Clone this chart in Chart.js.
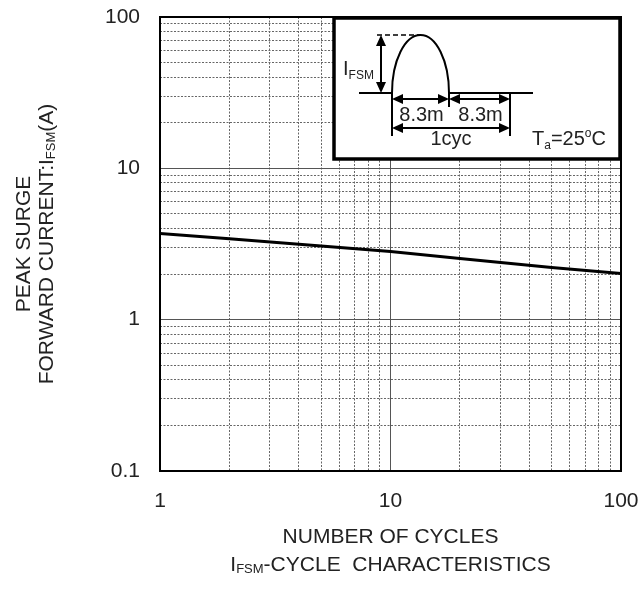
<!DOCTYPE html>
<html><head><meta charset="utf-8">
<script src="https://cdn.jsdelivr.net/npm/chart.js@4/dist/chart.umd.min.js"></script>
<style>html,body{margin:0;padding:0;background:#fff}#wrap{width:643px;height:590px}</style>
</head><body><div id="wrap"><canvas id="c" width="643" height="590"></canvas></div>
<script>
// ---- data ----
const cycles = [1, 2, 5, 10, 20, 50, 100];
const surgeCurrent = [3.71, 3.42, 3.07, 2.82, 2.54, 2.21, 2.02];
const xTickValues = [1,2,3,4,5,6,7,8,9,10,20,30,40,50,60,70,80,90,100];
const yTickValues = [0.1,0.2,0.3,0.4,0.5,0.6,0.7,0.8,0.9,1,2,3,4,5,6,7,8,9,10,20,30,40,50,60,70,80,90,100];
const xTickLabels = ['1', '10', '100'];
const yTickLabels = ['0.1', '1', '10', '100'];

const FONT = "'Liberation Sans', Arial, sans-serif";

function isMajor(v) {
  const l = Math.log10(v);
  return Math.abs(l - Math.round(l)) < 1e-6;
}
function labelFor(v, labels) {
  if (!isMajor(v)) return '';
  const s = labels.find(t => Math.abs(parseFloat(t) - v) < 1e-9);
  return s || '';
}

// rich text: parts = [[text, mode]] mode 0 normal, 1 subscript, 2 superscript
function rich(ctx, parts, x, y, align, size) {
  const small = Math.round(size * 0.62);
  let total = 0;
  const widths = parts.map(([t, m]) => {
    ctx.font = (m ? small : size) + 'px ' + FONT;
    const w = ctx.measureText(t).width; total += w; return w;
  });
  let cx = align === 'center' ? x - total / 2 : (align === 'right' ? x - total : x);
  ctx.textAlign = 'left';
  parts.forEach(([t, m], i) => {
    ctx.font = (m ? small : size) + 'px ' + FONT;
    const dy = m === 1 ? size * 0.22 : (m === 2 ? -size * 0.42 : 0);
    ctx.fillText(t, cx, y + dy);
    cx += widths[i];
  });
}

function arrowHead(ctx, x, y, dir) {
  const L = 11, W = 5;
  ctx.beginPath();
  if (dir === 'l') { ctx.moveTo(x, y); ctx.lineTo(x + L, y - W); ctx.lineTo(x + L, y + W); }
  if (dir === 'r') { ctx.moveTo(x, y); ctx.lineTo(x - L, y - W); ctx.lineTo(x - L, y + W); }
  if (dir === 'u') { ctx.moveTo(x, y); ctx.lineTo(x - W, y + L); ctx.lineTo(x + W, y + L); }
  if (dir === 'd') { ctx.moveTo(x, y); ctx.lineTo(x - W, y - L); ctx.lineTo(x + W, y - L); }
  ctx.closePath(); ctx.fill();
}
function line(ctx, x1, y1, x2, y2) { ctx.beginPath(); ctx.moveTo(x1, y1); ctx.lineTo(x2, y2); ctx.stroke(); }
function dblArrowH(ctx, x1, x2, y) { line(ctx, x1 + 4, y, x2 - 4, y); arrowHead(ctx, x1, y, 'l'); arrowHead(ctx, x2, y, 'r'); }

const decor = {
  id: 'decor',
  afterDraw(chart) {
    const ctx = chart.ctx, a = chart.chartArea;
    ctx.save();
    // frame
    ctx.strokeStyle = '#000'; ctx.lineWidth = 2;
    ctx.strokeRect(a.left, a.top, a.right - a.left, a.bottom - a.top);

    ctx.fillStyle = '#222';
    ctx.textBaseline = 'middle';
    // x titles
    const cx = (a.left + a.right) / 2;
    rich(ctx, [['NUMBER OF CYCLES', 0]], cx, a.bottom + 66, 'center', 21);
    rich(ctx, [['I', 0], ['FSM', 1], ['-CYCLE  CHARACTERISTICS', 0]], cx, a.bottom + 94, 'center', 21);
    // y titles
    const cy = (a.top + a.bottom) / 2;
    ctx.save(); ctx.translate(24, cy); ctx.rotate(-Math.PI / 2);
    rich(ctx, [['PEAK SURGE', 0]], 0, 0, 'center', 21);
    ctx.restore();
    ctx.save(); ctx.translate(47, cy); ctx.rotate(-Math.PI / 2);
    rich(ctx, [['FORWARD CURRENT:I', 0], ['FSM', 1], ['(A)', 0]], 0, 0, 'center', 21);
    ctx.restore();

    // inset
    const bx = a.right - 288, by = a.top, bw = 288, bh = 143;
    ctx.fillStyle = '#fff';
    ctx.fillRect(bx, by, bw, bh);
    ctx.strokeStyle = '#000'; ctx.lineWidth = 3.5;
    ctx.strokeRect(bx + 1, by + 1, bw - 2, bh - 2);

    ctx.lineWidth = 2; ctx.fillStyle = '#000'; ctx.strokeStyle = '#000';
    const base = by + 76;
    const p0 = bx + 59, p1 = bx + 116, pk = by + 18, t2 = bx + 177;
    line(ctx, bx + 26, base, p0, base);
    line(ctx, p1, base, bx + 200, base);
    ctx.beginPath();
    ctx.ellipse((p0 + p1) / 2, base, (p1 - p0) / 2, base - pk, 0, Math.PI, 2 * Math.PI);
    ctx.stroke();
    ctx.save(); ctx.setLineDash([5, 3]); ctx.lineWidth = 1.5;
    line(ctx, bx + 44, pk, (p0 + p1) / 2, pk);
    ctx.restore();
    const vx = bx + 48;
    line(ctx, vx, pk + 4, vx, base - 4);
    arrowHead(ctx, vx, pk, 'u'); arrowHead(ctx, vx, base, 'd');
    line(ctx, p0, base, p0, by + 119);
    line(ctx, p1, base, p1, by + 90);
    line(ctx, t2, base, t2, by + 119);
    dblArrowH(ctx, p0, p1, by + 82);
    dblArrowH(ctx, p1, t2, by + 82);
    dblArrowH(ctx, p0, t2, by + 111);
    ctx.fillStyle = '#222';
    ctx.textBaseline = 'alphabetic';
    rich(ctx, [['I', 0], ['FSM', 1]], bx + 10, by + 58, 'left', 20);
    rich(ctx, [['8.3m', 0]], (p0 + p1) / 2 + 1, by + 104, 'center', 20);
    rich(ctx, [['8.3m', 0]], (p1 + t2) / 2 + 1, by + 104, 'center', 20);
    rich(ctx, [['1cyc', 0]], (p0 + t2) / 2, by + 128, 'center', 20);
    rich(ctx, [['T', 0], ['a', 1], ['=25', 0], ['o', 2], ['C', 0]], bx + 199, by + 128, 'left', 20);
    ctx.restore();
  }
};

const gridColor = c => (c.tick && isMajor(c.tick.value)) ? '#555' : '#666';
const gridDash = c => (c.tick && !isMajor(c.tick.value)) ? [2, 1.5] : [];

new Chart(document.getElementById('c'), {
  type: 'line',
  data: {
    datasets: [{
      data: cycles.map((c, i) => ({ x: c, y: surgeCurrent[i] })),
      borderColor: '#000', borderWidth: 3, pointRadius: 0, tension: 0, fill: false
    }]
  },
  options: {
    responsive: false, animation: false, devicePixelRatio: 1,
    layout: { padding: { top: 17, right: 22, left: 0, bottom: 0 } },
    plugins: { legend: { display: false }, tooltip: { enabled: false } },
    scales: {
      x: {
        type: 'logarithmic', min: 1, max: 100,
        afterBuildTicks: s => { s.ticks = xTickValues.map(v => ({ value: v })); },
        afterFit: s => { s.height = 119; s.paddingLeft = 0; s.paddingRight = 0; },
        ticks: { autoSkip: false, maxRotation: 0, padding: 18, color: '#222',
          font: { family: FONT, size: 21 }, callback: v => labelFor(v, xTickLabels) },
        grid: { drawTicks: false, color: gridColor, lineWidth: 1 },
        border: { display: false, dash: gridDash }
      },
      y: {
        type: 'logarithmic', min: 0.1, max: 100,
        afterBuildTicks: s => { s.ticks = yTickValues.map(v => ({ value: v })); },
        afterFit: s => { s.width = 160; s.paddingTop = 0; s.paddingBottom = 0; },
        ticks: { autoSkip: false, padding: 20, color: '#222',
          font: { family: FONT, size: 21 }, callback: v => labelFor(v, yTickLabels) },
        grid: { drawTicks: false, color: gridColor, lineWidth: 1 },
        border: { display: false, dash: gridDash }
      }
    }
  },
  plugins: [decor]
});
</script>
</body></html>
